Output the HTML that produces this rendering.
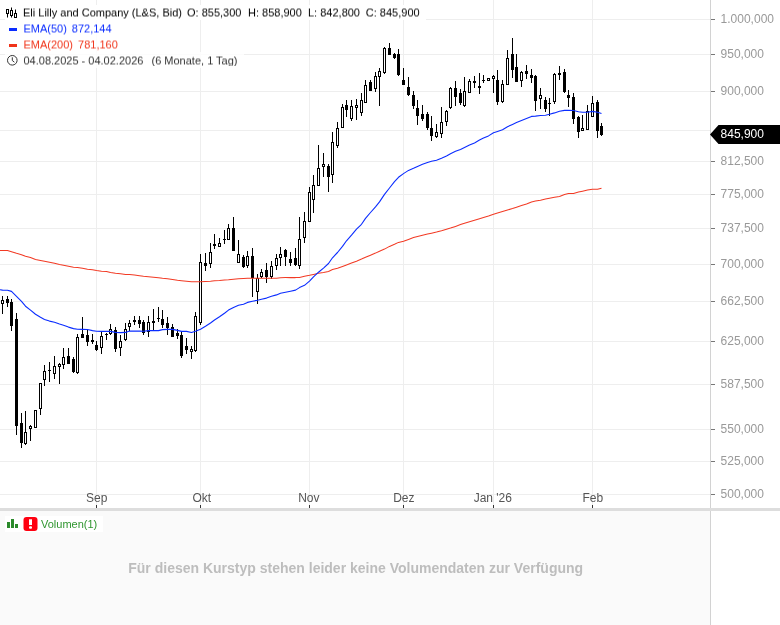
<!DOCTYPE html>
<html><head><meta charset="utf-8"><title>Chart</title>
<style>
html,body{margin:0;padding:0;background:#fff;}
body{width:780px;height:625px;position:relative;overflow:hidden;font-family:"Liberation Sans",sans-serif;}
.t{position:absolute;white-space:pre;line-height:16px;height:16px;}
.h{font-size:11px;}
.bg{position:absolute;background:rgba(255,255,255,0.82);height:16px;}
.yl{position:absolute;left:720.6px;font-size:12px;color:#999;line-height:14px;height:14px;white-space:pre;}
    .xl{position:absolute;font-size:12px;color:#555;line-height:14px;height:14px;white-space:pre;transform:translateX(-50%);}
</style></head><body>
<svg width="780" height="625" viewBox="0 0 780 625" style="position:absolute;left:0;top:0">
<g shape-rendering="crispEdges">
<rect x="0" y="511" width="710" height="114" fill="#fafafa"/>
<rect x="0" y="19" width="710" height="1" fill="#eeeeee"/>
<rect x="0" y="54" width="710" height="1" fill="#eeeeee"/>
<rect x="0" y="91" width="710" height="1" fill="#eeeeee"/>
<rect x="0" y="130" width="710" height="1" fill="#eeeeee"/>
<rect x="0" y="161" width="710" height="1" fill="#eeeeee"/>
<rect x="0" y="194" width="710" height="1" fill="#eeeeee"/>
<rect x="0" y="228" width="710" height="1" fill="#eeeeee"/>
<rect x="0" y="264" width="710" height="1" fill="#eeeeee"/>
<rect x="0" y="301" width="710" height="1" fill="#eeeeee"/>
<rect x="0" y="341" width="710" height="1" fill="#eeeeee"/>
<rect x="0" y="384" width="710" height="1" fill="#eeeeee"/>
<rect x="0" y="429" width="710" height="1" fill="#eeeeee"/>
<rect x="0" y="461" width="710" height="1" fill="#eeeeee"/>
<rect x="0" y="494" width="710" height="1" fill="#eeeeee"/>
<rect x="96" y="0" width="1" height="508" fill="#eeeeee"/>
<rect x="200" y="0" width="1" height="508" fill="#eeeeee"/>
<rect x="309" y="0" width="1" height="508" fill="#eeeeee"/>
<rect x="403" y="0" width="1" height="508" fill="#eeeeee"/>
<rect x="493" y="0" width="1" height="508" fill="#eeeeee"/>
<rect x="592" y="0" width="1" height="508" fill="#eeeeee"/>
<rect x="710" y="0" width="1" height="625" fill="#d2d2d2"/>
<rect x="0" y="508" width="780" height="3" fill="#dddddd"/>
<rect x="711" y="19" width="4" height="1" fill="#777"/>
<rect x="711" y="54" width="4" height="1" fill="#777"/>
<rect x="711" y="91" width="4" height="1" fill="#777"/>
<rect x="711" y="161" width="4" height="1" fill="#777"/>
<rect x="711" y="194" width="4" height="1" fill="#777"/>
<rect x="711" y="228" width="4" height="1" fill="#777"/>
<rect x="711" y="264" width="4" height="1" fill="#777"/>
<rect x="711" y="301" width="4" height="1" fill="#777"/>
<rect x="711" y="341" width="4" height="1" fill="#777"/>
<rect x="711" y="384" width="4" height="1" fill="#777"/>
<rect x="711" y="429" width="4" height="1" fill="#777"/>
<rect x="711" y="461" width="4" height="1" fill="#777"/>
<rect x="711" y="494" width="4" height="1" fill="#777"/>
<rect x="96" y="505" width="1" height="3" fill="#333"/>
<rect x="200" y="505" width="1" height="3" fill="#333"/>
<rect x="309" y="505" width="1" height="3" fill="#333"/>
<rect x="403" y="505" width="1" height="3" fill="#333"/>
<rect x="493" y="505" width="1" height="3" fill="#333"/>
<rect x="592" y="505" width="1" height="3" fill="#333"/>
</g>
<g shape-rendering="crispEdges">
<rect x="2" y="296" width="1" height="18" fill="#000"/>
<rect x="1" y="300" width="3" height="4" fill="#000"/>
<rect x="2" y="301" width="1" height="2" fill="#fff"/>
<rect x="7" y="296" width="1" height="11" fill="#000"/>
<rect x="6" y="299" width="3" height="4" fill="#000"/>
<rect x="11" y="299" width="1" height="32" fill="#000"/>
<rect x="10" y="302" width="3" height="24" fill="#000"/>
<rect x="16" y="313" width="1" height="122" fill="#000"/>
<rect x="15" y="319" width="3" height="107" fill="#000"/>
<rect x="21" y="413" width="1" height="35" fill="#000"/>
<rect x="20" y="423" width="3" height="20" fill="#000"/>
<rect x="25" y="411" width="1" height="34" fill="#000"/>
<rect x="24" y="432" width="3" height="12" fill="#000"/>
<rect x="25" y="433" width="1" height="10" fill="#fff"/>
<rect x="30" y="425" width="1" height="16" fill="#000"/>
<rect x="29" y="426" width="3" height="3" fill="#000"/>
<rect x="30" y="427" width="1" height="1" fill="#fff"/>
<rect x="35" y="410" width="1" height="18" fill="#000"/>
<rect x="34" y="410" width="3" height="18" fill="#000"/>
<rect x="35" y="411" width="1" height="16" fill="#fff"/>
<rect x="40" y="383" width="1" height="32" fill="#000"/>
<rect x="39" y="383" width="3" height="26" fill="#000"/>
<rect x="40" y="384" width="1" height="24" fill="#fff"/>
<rect x="44" y="365" width="1" height="21" fill="#000"/>
<rect x="43" y="371" width="3" height="9" fill="#000"/>
<rect x="44" y="372" width="1" height="7" fill="#fff"/>
<rect x="49" y="362" width="1" height="20" fill="#000"/>
<rect x="48" y="370" width="3" height="1" fill="#000"/>
<rect x="54" y="356" width="1" height="23" fill="#000"/>
<rect x="53" y="366" width="3" height="8" fill="#000"/>
<rect x="54" y="367" width="1" height="6" fill="#fff"/>
<rect x="59" y="363" width="1" height="21" fill="#000"/>
<rect x="58" y="364" width="3" height="3" fill="#000"/>
<rect x="59" y="365" width="1" height="1" fill="#fff"/>
<rect x="63" y="348" width="1" height="21" fill="#000"/>
<rect x="62" y="357" width="3" height="8" fill="#000"/>
<rect x="63" y="358" width="1" height="6" fill="#fff"/>
<rect x="68" y="348" width="1" height="16" fill="#000"/>
<rect x="67" y="356" width="3" height="8" fill="#000"/>
<rect x="73" y="357" width="1" height="16" fill="#000"/>
<rect x="72" y="359" width="3" height="13" fill="#000"/>
<rect x="77" y="334" width="1" height="40" fill="#000"/>
<rect x="76" y="337" width="3" height="36" fill="#000"/>
<rect x="77" y="338" width="1" height="34" fill="#fff"/>
<rect x="82" y="317" width="1" height="21" fill="#000"/>
<rect x="81" y="334" width="3" height="4" fill="#000"/>
<rect x="87" y="330" width="1" height="16" fill="#000"/>
<rect x="86" y="335" width="3" height="7" fill="#000"/>
<rect x="92" y="334" width="1" height="10" fill="#000"/>
<rect x="91" y="340" width="3" height="2" fill="#000"/>
<rect x="96" y="341" width="1" height="10" fill="#000"/>
<rect x="95" y="345" width="3" height="5" fill="#000"/>
<rect x="101" y="332" width="1" height="22" fill="#000"/>
<rect x="100" y="336" width="3" height="12" fill="#000"/>
<rect x="101" y="337" width="1" height="10" fill="#fff"/>
<rect x="106" y="333" width="1" height="7" fill="#000"/>
<rect x="105" y="334" width="3" height="1" fill="#000"/>
<rect x="110" y="324" width="1" height="11" fill="#000"/>
<rect x="109" y="329" width="3" height="5" fill="#000"/>
<rect x="110" y="330" width="1" height="3" fill="#fff"/>
<rect x="115" y="327" width="1" height="25" fill="#000"/>
<rect x="114" y="330" width="3" height="19" fill="#000"/>
<rect x="120" y="335" width="1" height="21" fill="#000"/>
<rect x="119" y="341" width="3" height="7" fill="#000"/>
<rect x="120" y="342" width="1" height="5" fill="#fff"/>
<rect x="125" y="323" width="1" height="18" fill="#000"/>
<rect x="124" y="329" width="3" height="11" fill="#000"/>
<rect x="125" y="330" width="1" height="9" fill="#fff"/>
<rect x="129" y="320" width="1" height="11" fill="#000"/>
<rect x="128" y="323" width="3" height="4" fill="#000"/>
<rect x="129" y="324" width="1" height="2" fill="#fff"/>
<rect x="134" y="316" width="1" height="9" fill="#000"/>
<rect x="133" y="320" width="3" height="2" fill="#000"/>
<rect x="139" y="316" width="1" height="12" fill="#000"/>
<rect x="138" y="320" width="3" height="4" fill="#000"/>
<rect x="143" y="320" width="1" height="15" fill="#000"/>
<rect x="142" y="322" width="3" height="11" fill="#000"/>
<rect x="148" y="316" width="1" height="21" fill="#000"/>
<rect x="147" y="322" width="3" height="10" fill="#000"/>
<rect x="148" y="323" width="1" height="8" fill="#fff"/>
<rect x="153" y="309" width="1" height="21" fill="#000"/>
<rect x="152" y="321" width="3" height="2" fill="#000"/>
<rect x="158" y="307" width="1" height="15" fill="#000"/>
<rect x="157" y="318" width="3" height="1" fill="#000"/>
<rect x="162" y="310" width="1" height="18" fill="#000"/>
<rect x="161" y="319" width="3" height="6" fill="#000"/>
<rect x="167" y="317" width="1" height="18" fill="#000"/>
<rect x="166" y="323" width="3" height="5" fill="#000"/>
<rect x="172" y="324" width="1" height="13" fill="#000"/>
<rect x="171" y="327" width="3" height="10" fill="#000"/>
<rect x="177" y="329" width="1" height="10" fill="#000"/>
<rect x="176" y="333" width="3" height="3" fill="#000"/>
<rect x="181" y="332" width="1" height="26" fill="#000"/>
<rect x="180" y="335" width="3" height="21" fill="#000"/>
<rect x="186" y="338" width="1" height="16" fill="#000"/>
<rect x="185" y="346" width="3" height="4" fill="#000"/>
<rect x="191" y="346" width="1" height="13" fill="#000"/>
<rect x="190" y="349" width="3" height="3" fill="#000"/>
<rect x="191" y="350" width="1" height="1" fill="#fff"/>
<rect x="195" y="312" width="1" height="40" fill="#000"/>
<rect x="194" y="316" width="3" height="35" fill="#000"/>
<rect x="195" y="317" width="1" height="33" fill="#fff"/>
<rect x="200" y="254" width="1" height="71" fill="#000"/>
<rect x="199" y="262" width="3" height="61" fill="#000"/>
<rect x="200" y="263" width="1" height="59" fill="#fff"/>
<rect x="205" y="253" width="1" height="18" fill="#000"/>
<rect x="204" y="263" width="3" height="3" fill="#000"/>
<rect x="210" y="243" width="1" height="25" fill="#000"/>
<rect x="209" y="252" width="3" height="12" fill="#000"/>
<rect x="210" y="253" width="1" height="10" fill="#fff"/>
<rect x="214" y="234" width="1" height="15" fill="#000"/>
<rect x="213" y="244" width="3" height="2" fill="#000"/>
<rect x="219" y="238" width="1" height="9" fill="#000"/>
<rect x="218" y="243" width="3" height="4" fill="#000"/>
<rect x="219" y="244" width="1" height="2" fill="#fff"/>
<rect x="224" y="230" width="1" height="14" fill="#000"/>
<rect x="223" y="239" width="3" height="1" fill="#000"/>
<rect x="228" y="224" width="1" height="16" fill="#000"/>
<rect x="227" y="228" width="3" height="12" fill="#000"/>
<rect x="228" y="229" width="1" height="10" fill="#fff"/>
<rect x="233" y="217" width="1" height="34" fill="#000"/>
<rect x="232" y="228" width="3" height="23" fill="#000"/>
<rect x="238" y="240" width="1" height="23" fill="#000"/>
<rect x="237" y="254" width="3" height="9" fill="#000"/>
<rect x="238" y="255" width="1" height="7" fill="#fff"/>
<rect x="243" y="255" width="1" height="13" fill="#000"/>
<rect x="242" y="257" width="3" height="10" fill="#000"/>
<rect x="247" y="251" width="1" height="17" fill="#000"/>
<rect x="246" y="256" width="3" height="10" fill="#000"/>
<rect x="247" y="257" width="1" height="8" fill="#fff"/>
<rect x="252" y="248" width="1" height="49" fill="#000"/>
<rect x="251" y="256" width="3" height="22" fill="#000"/>
<rect x="257" y="274" width="1" height="30" fill="#000"/>
<rect x="256" y="278" width="3" height="14" fill="#000"/>
<rect x="257" y="279" width="1" height="12" fill="#fff"/>
<rect x="261" y="269" width="1" height="9" fill="#000"/>
<rect x="260" y="272" width="3" height="5" fill="#000"/>
<rect x="261" y="273" width="1" height="3" fill="#fff"/>
<rect x="266" y="263" width="1" height="20" fill="#000"/>
<rect x="265" y="270" width="3" height="7" fill="#000"/>
<rect x="271" y="261" width="1" height="18" fill="#000"/>
<rect x="270" y="266" width="3" height="11" fill="#000"/>
<rect x="271" y="267" width="1" height="9" fill="#fff"/>
<rect x="276" y="254" width="1" height="16" fill="#000"/>
<rect x="275" y="258" width="3" height="8" fill="#000"/>
<rect x="276" y="259" width="1" height="6" fill="#fff"/>
<rect x="280" y="247" width="1" height="19" fill="#000"/>
<rect x="279" y="254" width="3" height="4" fill="#000"/>
<rect x="280" y="255" width="1" height="2" fill="#fff"/>
<rect x="285" y="249" width="1" height="17" fill="#000"/>
<rect x="284" y="250" width="3" height="7" fill="#000"/>
<rect x="290" y="252" width="1" height="14" fill="#000"/>
<rect x="289" y="259" width="3" height="4" fill="#000"/>
<rect x="295" y="248" width="1" height="18" fill="#000"/>
<rect x="294" y="258" width="3" height="7" fill="#000"/>
<rect x="299" y="217" width="1" height="52" fill="#000"/>
<rect x="298" y="239" width="3" height="27" fill="#000"/>
<rect x="299" y="240" width="1" height="25" fill="#fff"/>
<rect x="304" y="212" width="1" height="31" fill="#000"/>
<rect x="303" y="221" width="3" height="17" fill="#000"/>
<rect x="304" y="222" width="1" height="15" fill="#fff"/>
<rect x="309" y="187" width="1" height="35" fill="#000"/>
<rect x="308" y="192" width="3" height="30" fill="#000"/>
<rect x="309" y="193" width="1" height="28" fill="#fff"/>
<rect x="313" y="175" width="1" height="38" fill="#000"/>
<rect x="312" y="185" width="3" height="15" fill="#000"/>
<rect x="313" y="186" width="1" height="13" fill="#fff"/>
<rect x="318" y="145" width="1" height="41" fill="#000"/>
<rect x="317" y="168" width="3" height="18" fill="#000"/>
<rect x="318" y="169" width="1" height="16" fill="#fff"/>
<rect x="323" y="153" width="1" height="24" fill="#000"/>
<rect x="322" y="164" width="3" height="3" fill="#000"/>
<rect x="323" y="165" width="1" height="1" fill="#fff"/>
<rect x="328" y="164" width="1" height="28" fill="#000"/>
<rect x="327" y="166" width="3" height="11" fill="#000"/>
<rect x="332" y="132" width="1" height="51" fill="#000"/>
<rect x="331" y="142" width="3" height="33" fill="#000"/>
<rect x="332" y="143" width="1" height="31" fill="#fff"/>
<rect x="337" y="122" width="1" height="26" fill="#000"/>
<rect x="336" y="128" width="3" height="18" fill="#000"/>
<rect x="337" y="129" width="1" height="16" fill="#fff"/>
<rect x="342" y="104" width="1" height="24" fill="#000"/>
<rect x="341" y="107" width="3" height="21" fill="#000"/>
<rect x="342" y="108" width="1" height="19" fill="#fff"/>
<rect x="346" y="100" width="1" height="17" fill="#000"/>
<rect x="345" y="105" width="3" height="5" fill="#000"/>
<rect x="351" y="100" width="1" height="21" fill="#000"/>
<rect x="350" y="106" width="3" height="13" fill="#000"/>
<rect x="351" y="107" width="1" height="11" fill="#fff"/>
<rect x="356" y="99" width="1" height="21" fill="#000"/>
<rect x="355" y="105" width="3" height="3" fill="#000"/>
<rect x="356" y="106" width="1" height="1" fill="#fff"/>
<rect x="361" y="93" width="1" height="23" fill="#000"/>
<rect x="360" y="100" width="3" height="13" fill="#000"/>
<rect x="361" y="101" width="1" height="11" fill="#fff"/>
<rect x="365" y="80" width="1" height="23" fill="#000"/>
<rect x="364" y="85" width="3" height="18" fill="#000"/>
<rect x="365" y="86" width="1" height="16" fill="#fff"/>
<rect x="370" y="80" width="1" height="11" fill="#000"/>
<rect x="369" y="82" width="3" height="9" fill="#000"/>
<rect x="375" y="72" width="1" height="20" fill="#000"/>
<rect x="374" y="76" width="3" height="13" fill="#000"/>
<rect x="375" y="77" width="1" height="11" fill="#fff"/>
<rect x="379" y="68" width="1" height="38" fill="#000"/>
<rect x="378" y="71" width="3" height="6" fill="#000"/>
<rect x="379" y="72" width="1" height="4" fill="#fff"/>
<rect x="384" y="47" width="1" height="27" fill="#000"/>
<rect x="383" y="48" width="3" height="25" fill="#000"/>
<rect x="384" y="49" width="1" height="23" fill="#fff"/>
<rect x="389" y="43" width="1" height="12" fill="#000"/>
<rect x="388" y="48" width="3" height="7" fill="#000"/>
<rect x="394" y="53" width="1" height="6" fill="#000"/>
<rect x="393" y="54" width="3" height="4" fill="#000"/>
<rect x="398" y="49" width="1" height="27" fill="#000"/>
<rect x="397" y="54" width="3" height="21" fill="#000"/>
<rect x="403" y="68" width="1" height="17" fill="#000"/>
<rect x="402" y="80" width="3" height="5" fill="#000"/>
<rect x="408" y="77" width="1" height="19" fill="#000"/>
<rect x="407" y="87" width="3" height="8" fill="#000"/>
<rect x="413" y="91" width="1" height="18" fill="#000"/>
<rect x="412" y="95" width="3" height="11" fill="#000"/>
<rect x="417" y="100" width="1" height="25" fill="#000"/>
<rect x="416" y="108" width="3" height="8" fill="#000"/>
<rect x="422" y="105" width="1" height="16" fill="#000"/>
<rect x="421" y="114" width="3" height="5" fill="#000"/>
<rect x="427" y="112" width="1" height="18" fill="#000"/>
<rect x="426" y="114" width="3" height="14" fill="#000"/>
<rect x="431" y="116" width="1" height="25" fill="#000"/>
<rect x="430" y="128" width="3" height="8" fill="#000"/>
<rect x="436" y="124" width="1" height="14" fill="#000"/>
<rect x="435" y="132" width="3" height="5" fill="#000"/>
<rect x="436" y="133" width="1" height="3" fill="#fff"/>
<rect x="441" y="107" width="1" height="31" fill="#000"/>
<rect x="440" y="122" width="3" height="12" fill="#000"/>
<rect x="441" y="123" width="1" height="10" fill="#fff"/>
<rect x="446" y="110" width="1" height="16" fill="#000"/>
<rect x="445" y="111" width="3" height="11" fill="#000"/>
<rect x="446" y="112" width="1" height="9" fill="#fff"/>
<rect x="450" y="87" width="1" height="22" fill="#000"/>
<rect x="449" y="88" width="3" height="20" fill="#000"/>
<rect x="450" y="89" width="1" height="18" fill="#fff"/>
<rect x="455" y="81" width="1" height="25" fill="#000"/>
<rect x="454" y="88" width="3" height="9" fill="#000"/>
<rect x="460" y="89" width="1" height="16" fill="#000"/>
<rect x="459" y="93" width="3" height="10" fill="#000"/>
<rect x="464" y="77" width="1" height="30" fill="#000"/>
<rect x="463" y="91" width="3" height="15" fill="#000"/>
<rect x="464" y="92" width="1" height="13" fill="#fff"/>
<rect x="469" y="79" width="1" height="14" fill="#000"/>
<rect x="468" y="81" width="3" height="12" fill="#000"/>
<rect x="469" y="82" width="1" height="10" fill="#fff"/>
<rect x="474" y="76" width="1" height="12" fill="#000"/>
<rect x="473" y="81" width="3" height="2" fill="#000"/>
<rect x="479" y="73" width="1" height="21" fill="#000"/>
<rect x="478" y="86" width="3" height="2" fill="#000"/>
<rect x="483" y="75" width="1" height="8" fill="#000"/>
<rect x="482" y="80" width="3" height="1" fill="#000"/>
<rect x="488" y="78" width="1" height="3" fill="#000"/>
<rect x="487" y="78" width="3" height="3" fill="#000"/>
<rect x="488" y="79" width="1" height="1" fill="#fff"/>
<rect x="493" y="75" width="1" height="18" fill="#000"/>
<rect x="492" y="76" width="3" height="3" fill="#000"/>
<rect x="493" y="77" width="1" height="1" fill="#fff"/>
<rect x="497" y="70" width="1" height="35" fill="#000"/>
<rect x="496" y="80" width="3" height="22" fill="#000"/>
<rect x="502" y="80" width="1" height="23" fill="#000"/>
<rect x="501" y="84" width="3" height="18" fill="#000"/>
<rect x="502" y="85" width="1" height="16" fill="#fff"/>
<rect x="507" y="50" width="1" height="35" fill="#000"/>
<rect x="506" y="58" width="3" height="27" fill="#000"/>
<rect x="507" y="59" width="1" height="25" fill="#fff"/>
<rect x="512" y="38" width="1" height="40" fill="#000"/>
<rect x="511" y="54" width="3" height="16" fill="#000"/>
<rect x="516" y="54" width="1" height="28" fill="#000"/>
<rect x="515" y="67" width="3" height="15" fill="#000"/>
<rect x="521" y="71" width="1" height="16" fill="#000"/>
<rect x="520" y="72" width="3" height="9" fill="#000"/>
<rect x="521" y="73" width="1" height="7" fill="#fff"/>
<rect x="526" y="65" width="1" height="14" fill="#000"/>
<rect x="525" y="71" width="3" height="3" fill="#000"/>
<rect x="531" y="69" width="1" height="14" fill="#000"/>
<rect x="530" y="75" width="3" height="3" fill="#000"/>
<rect x="535" y="75" width="1" height="36" fill="#000"/>
<rect x="534" y="76" width="3" height="25" fill="#000"/>
<rect x="540" y="88" width="1" height="21" fill="#000"/>
<rect x="539" y="95" width="3" height="4" fill="#000"/>
<rect x="540" y="96" width="1" height="2" fill="#fff"/>
<rect x="545" y="97" width="1" height="15" fill="#000"/>
<rect x="544" y="100" width="3" height="9" fill="#000"/>
<rect x="549" y="98" width="1" height="18" fill="#000"/>
<rect x="548" y="103" width="3" height="1" fill="#000"/>
<rect x="554" y="73" width="1" height="31" fill="#000"/>
<rect x="553" y="74" width="3" height="28" fill="#000"/>
<rect x="554" y="75" width="1" height="26" fill="#fff"/>
<rect x="559" y="66" width="1" height="14" fill="#000"/>
<rect x="558" y="73" width="3" height="2" fill="#000"/>
<rect x="564" y="69" width="1" height="24" fill="#000"/>
<rect x="563" y="72" width="3" height="20" fill="#000"/>
<rect x="568" y="90" width="1" height="17" fill="#000"/>
<rect x="567" y="95" width="3" height="3" fill="#000"/>
<rect x="573" y="93" width="1" height="31" fill="#000"/>
<rect x="572" y="97" width="3" height="22" fill="#000"/>
<rect x="578" y="116" width="1" height="22" fill="#000"/>
<rect x="577" y="117" width="3" height="15" fill="#000"/>
<rect x="582" y="115" width="1" height="16" fill="#000"/>
<rect x="581" y="128" width="3" height="3" fill="#000"/>
<rect x="582" y="129" width="1" height="1" fill="#fff"/>
<rect x="587" y="105" width="1" height="25" fill="#000"/>
<rect x="586" y="111" width="3" height="19" fill="#000"/>
<rect x="587" y="112" width="1" height="17" fill="#fff"/>
<rect x="592" y="96" width="1" height="21" fill="#000"/>
<rect x="591" y="103" width="3" height="14" fill="#000"/>
<rect x="592" y="104" width="1" height="12" fill="#fff"/>
<rect x="597" y="100" width="1" height="38" fill="#000"/>
<rect x="596" y="102" width="3" height="29" fill="#000"/>
<rect x="601" y="123" width="1" height="13" fill="#000"/>
<rect x="600" y="126" width="3" height="9" fill="#000"/>
</g>
<path d="M-2.5,250.5 L2.5,250.5 L7.5,250.5 L11.5,251.7 L16.5,253.3 L21.5,254.7 L25.5,256.2 L30.5,257.5 L35.5,259.5 L40.5,260.5 L44.5,261.3 L49.5,262.3 L54.5,263.3 L59.5,264.5 L63.5,265.3 L68.5,266.3 L73.5,267.2 L77.5,267.5 L82.5,268.3 L87.5,269.3 L92.5,269.7 L96.5,270.5 L101.5,271.2 L106.5,271.5 L110.5,272.5 L115.5,273.3 L120.5,273.7 L125.5,274.5 L129.5,274.6 L134.5,275.0 L139.5,275.7 L143.5,276.2 L148.5,276.7 L153.5,277.2 L158.5,277.7 L162.5,278.2 L167.5,278.7 L172.5,279.5 L177.5,280.3 L181.5,280.7 L186.5,281.2 L191.5,281.7 L195.5,281.7 L200.5,281.7 L205.5,281.5 L210.5,281.3 L214.5,280.8 L219.5,280.5 L224.5,280.0 L228.5,279.7 L233.5,279.2 L238.5,278.8 L243.5,278.5 L247.5,278.3 L252.5,278.3 L257.5,278.3 L261.5,278.3 L266.5,278.3 L271.5,278.3 L276.5,278.2 L280.5,277.7 L285.5,277.6 L290.5,277.6 L295.5,277.6 L299.5,277.5 L304.5,276.3 L309.5,275.3 L313.5,274.4 L318.5,273.2 L323.5,272.4 L328.5,271.4 L332.5,269.6 L337.5,268.3 L342.5,266.5 L346.5,265.0 L351.5,263.1 L356.5,261.2 L361.5,259.1 L365.5,257.3 L370.5,255.2 L375.5,253.1 L379.5,251.2 L384.5,249.1 L389.5,246.4 L394.5,244.3 L398.5,242.4 L403.5,241.3 L408.5,239.5 L413.5,237.6 L417.5,236.5 L422.5,235.2 L427.5,234.1 L431.5,233.2 L436.5,232.1 L441.5,230.8 L446.5,229.3 L450.5,228.1 L455.5,226.4 L460.5,224.6 L464.5,223.2 L469.5,221.7 L474.5,220.2 L479.5,218.7 L483.5,217.5 L488.5,216.0 L493.5,214.2 L497.5,213.0 L502.5,211.5 L507.5,210.0 L512.5,208.5 L516.5,207.2 L521.5,205.6 L526.5,204.0 L531.5,201.9 L535.5,201.1 L540.5,200.2 L545.5,199.0 L549.5,198.2 L554.5,197.3 L559.5,196.4 L564.5,194.4 L568.5,193.5 L573.5,193.4 L578.5,192.1 L582.5,191.2 L587.5,190.1 L592.5,189.2 L597.5,189.2 L601.5,188.3" fill="none" stroke="#f23a24" stroke-width="1.05" stroke-linejoin="round"/>
<path d="M-2.5,289.5 L2.5,290.1 L7.5,290.3 L11.5,291.4 L16.5,296.3 L21.5,301.4 L25.5,306.2 L30.5,310.1 L35.5,314.2 L40.5,317.3 L44.5,319.4 L49.5,321.1 L54.5,322.2 L59.5,324.0 L63.5,325.2 L68.5,327.1 L73.5,328.6 L77.5,329.2 L82.5,329.4 L87.5,329.5 L92.5,330.6 L96.5,331.3 L101.5,331.4 L106.5,331.4 L110.5,331.4 L115.5,332.4 L120.5,332.6 L125.5,332.4 L129.5,331.1 L134.5,331.1 L139.5,331.1 L143.5,331.3 L148.5,330.6 L153.5,330.5 L158.5,330.6 L162.5,329.6 L167.5,329.4 L172.5,329.4 L177.5,330.4 L181.5,331.4 L186.5,331.4 L191.5,332.5 L195.5,331.3 L200.5,329.2 L205.5,326.3 L210.5,323.0 L214.5,320.0 L219.5,316.8 L224.5,313.2 L228.5,310.1 L233.5,307.4 L238.5,305.3 L243.5,304.2 L247.5,302.4 L252.5,301.2 L257.5,300.3 L261.5,299.2 L266.5,298.1 L271.5,296.3 L276.5,294.9 L280.5,293.2 L285.5,292.2 L290.5,291.2 L295.5,290.1 L299.5,287.6 L304.5,285.3 L309.5,281.1 L313.5,276.8 L318.5,272.2 L323.5,268.1 L328.5,263.5 L332.5,257.8 L337.5,252.5 L342.5,246.4 L346.5,240.8 L351.5,235.2 L356.5,229.1 L361.5,224.3 L365.5,218.4 L370.5,212.5 L375.5,206.9 L379.5,201.9 L384.5,194.4 L389.5,188.0 L394.5,181.6 L398.5,177.3 L403.5,173.6 L408.5,170.4 L413.5,168.3 L417.5,166.4 L422.5,164.3 L427.5,162.5 L431.5,161.3 L436.5,160.3 L441.5,158.3 L446.5,156.0 L450.5,153.8 L455.5,151.3 L460.5,149.4 L464.5,147.4 L469.5,144.9 L474.5,142.9 L479.5,140.1 L483.5,138.1 L488.5,135.9 L493.5,132.7 L497.5,131.4 L502.5,129.7 L507.5,126.7 L512.5,124.4 L516.5,122.5 L521.5,120.5 L526.5,118.5 L531.5,116.4 L535.5,116.1 L540.5,115.5 L545.5,115.2 L549.5,114.3 L554.5,112.9 L559.5,111.3 L564.5,110.4 L568.5,110.3 L573.5,110.5 L578.5,111.7 L582.5,112.3 L587.5,112.3 L592.5,111.4 L597.5,112.3 L601.5,113.5" fill="none" stroke="#0a2cff" stroke-width="1.1" stroke-linejoin="round"/>
<path d="M710,134.5 L718.5,125 L780,125 L780,144 L718.5,144 Z" fill="#000"/>
</svg>
<div class="bg" style="left:5px;top:4.5px;width:420.5px;height:15px;background:rgba(255,255,255,0.96)"></div>
<div class="bg" style="left:5px;top:20px;width:110px"></div>
<div class="bg" style="left:5px;top:36px;width:116px"></div>
<div class="bg" style="left:5px;top:52px;width:239px"></div>
<div class="bg" style="left:5px;top:516px;width:98px;background:rgba(255,255,255,0.9)"></div>
<svg width="780" height="625" viewBox="0 0 780 625" style="position:absolute;left:0;top:0">
<g fill="none" stroke="#000" stroke-width="1">
<rect x="6.5" y="9.5" width="2" height="4"/><path d="M7.5,13.5V17.5"/>
<rect x="10.5" y="10.5" width="2" height="5"/><path d="M11.5,7.5V10.5M11.5,15.5V17.5"/>
<rect x="14.5" y="13.5" width="2" height="4"/><path d="M15.5,9.5V13.5"/>
</g>
<rect x="9" y="28" width="8" height="3" fill="#0a2cff"/>
<rect x="9" y="44" width="8" height="3" fill="#f0341a"/>
<circle cx="12.3" cy="60.3" r="4.8" fill="none" stroke="#333" stroke-width="1"/>
<path d="M12.3,57.3V60.5L14.4,62.2" fill="none" stroke="#333" stroke-width="1"/>
<g fill="#2b8a2b"><rect x="7" y="522" width="3" height="6"/><rect x="11" y="519" width="3" height="9"/><rect x="15" y="524" width="3" height="4"/></g>
<rect x="23.5" y="517" width="14" height="14" rx="3" fill="#ff0010"/>
<rect x="29" y="519.3" width="3" height="5.7" fill="#fff"/><rect x="29" y="526.2" width="3" height="2.6" rx="1" fill="#fff"/>
</svg>
<div style="position:absolute;left:0;top:0;width:780px;height:625px;will-change:transform;transform:translateY(0.5px) rotate(0.001deg)">
<div class="t h" style="left:23px;top:4px;color:#000">Eli Lilly and Company (L&amp;S, Bid)</div>
<div class="t h" style="left:187px;top:4px;color:#000">O: 855,300</div>
<div class="t h" style="left:248px;top:4px;color:#000">H: 858,900</div>
<div class="t h" style="left:308px;top:4px;color:#000">L: 842,800</div>
<div class="t h" style="left:365.8px;top:4px;color:#000">C: 845,900</div>
<div class="t h" style="left:23.5px;top:20px;color:#0a2cff">EMA(50)</div>
<div class="t h" style="left:71.8px;top:20px;color:#0a2cff">872,144</div>
<div class="t h" style="left:23.5px;top:36px;color:#f0341a">EMA(200)</div>
<div class="t h" style="left:78.1px;top:36px;color:#f0341a">781,160</div>
<div class="t h" style="left:23.5px;top:52px;color:#333">04.08.2025 - 04.02.2026</div>
<div class="t h" style="left:151.5px;top:52px;color:#333">(6 Monate, 1 Tag)</div>
</div><div style="position:absolute;left:0;top:0;width:780px;height:625px;will-change:transform">
<div class="t h" style="left:41px;top:516px;color:#2f962f">Volumen(1)</div>
<div class="yl" style="top:12px">1.000,000</div>
<div class="yl" style="top:47px">950,000</div>
<div class="yl" style="top:84px">900,000</div>
<div class="yl" style="top:154px">812,500</div>
<div class="yl" style="top:187px">775,000</div>
<div class="yl" style="top:221px">737,500</div>
<div class="yl" style="top:257px">700,000</div>
<div class="yl" style="top:294px">662,500</div>
<div class="yl" style="top:334px">625,000</div>
<div class="yl" style="top:377px">587,500</div>
<div class="yl" style="top:422px">550,000</div>
<div class="yl" style="top:454px">525,000</div>
<div class="yl" style="top:487px">500,000</div>
<div class="yl" style="top:127px;color:#fff">845,900</div>
<div class="xl" style="left:96.8px;top:491px">Sep</div>
<div class="xl" style="left:201.8px;top:491px">Okt</div>
<div class="xl" style="left:308.8px;top:491px">Nov</div>
<div class="xl" style="left:403.8px;top:491px">Dez</div>
<div class="xl" style="left:492.8px;top:491px">Jan '26</div>
<div class="xl" style="left:592.8px;top:491px">Feb</div>
<div class="t" style="left:0.7px;width:710px;top:559px;text-align:center;font-size:14px;font-weight:bold;color:#bdbdbd;line-height:18px;height:18px">Für diesen Kurstyp stehen leider keine Volumendaten zur Verfügung</div>
</div>
</body></html>
